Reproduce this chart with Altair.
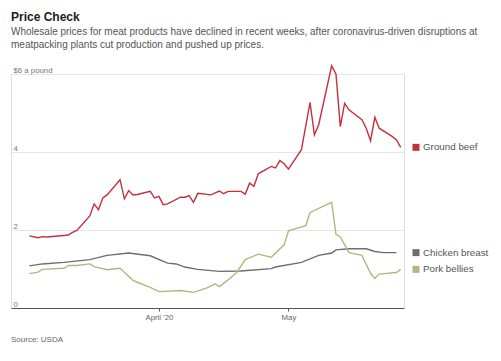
import altair as alt
import pandas as pd

FONT = "Liberation Sans"

series_names = ["Ground beef", "Chicken breast", "Pork bellies"]
series_colors = ["#c3303f", "#6e6e6e", "#bab381"]
source_text = ["Source: USDA"]

beef_dates = ["2020-03-02", "2020-03-04", "2020-03-05", "2020-03-06", "2020-03-10", "2020-03-11",
              "2020-03-12", "2020-03-13", "2020-03-16", "2020-03-17", "2020-03-18", "2020-03-19",
              "2020-03-20", "2020-03-23", "2020-03-24", "2020-03-25", "2020-03-26", "2020-03-27",
              "2020-03-30", "2020-03-31", "2020-04-01", "2020-04-02", "2020-04-03", "2020-04-06",
              "2020-04-07", "2020-04-08", "2020-04-09", "2020-04-10", "2020-04-13", "2020-04-15",
              "2020-04-16", "2020-04-17", "2020-04-20", "2020-04-21", "2020-04-22", "2020-04-23",
              "2020-04-24", "2020-04-27", "2020-04-28", "2020-04-29", "2020-04-30", "2020-05-01",
              "2020-05-04", "2020-05-06", "2020-05-07", "2020-05-08", "2020-05-11", "2020-05-12",
              "2020-05-13", "2020-05-14", "2020-05-15", "2020-05-18", "2020-05-19", "2020-05-20",
              "2020-05-21", "2020-05-22", "2020-05-25", "2020-05-26", "2020-05-27"]
beef_values = [1.85, 1.80, 1.83, 1.82, 1.86, 1.87,
               1.94, 1.99, 2.36, 2.67, 2.52, 2.82,
               2.90, 3.29, 2.80, 3.01, 2.90, 2.91,
               2.99, 2.82, 2.86, 2.65, 2.67, 2.84,
               2.84, 2.88, 2.71, 2.94, 2.90, 3.00,
               2.93, 2.99, 2.99, 2.92, 3.20, 3.12,
               3.44, 3.63, 3.59, 3.78, 3.70, 3.56,
               4.06, 5.27, 4.44, 4.70, 6.21, 6.00,
               4.65, 5.25, 5.08, 4.83, 4.61, 4.29,
               4.89, 4.61, 4.40, 4.31, 4.12]

chicken_dates = ["2020-03-02", "2020-03-05", "2020-03-10", "2020-03-16", "2020-03-20", "2020-03-25",
                 "2020-03-30", "2020-04-03", "2020-04-05", "2020-04-07", "2020-04-10", "2020-04-15",
                 "2020-04-20", "2020-04-27", "2020-04-28", "2020-05-04", "2020-05-08", "2020-05-11",
                 "2020-05-12", "2020-05-15", "2020-05-19", "2020-05-21", "2020-05-23", "2020-05-26"]
chicken_values = [1.08, 1.13, 1.17, 1.24, 1.35, 1.41,
                  1.34, 1.15, 1.13, 1.05, 0.99, 0.94,
                  0.95, 1.01, 1.05, 1.17, 1.35, 1.41,
                  1.49, 1.52, 1.52, 1.45, 1.42, 1.42]

pork_dates = ["2020-03-02", "2020-03-04", "2020-03-05", "2020-03-10", "2020-03-11", "2020-03-13",
              "2020-03-16", "2020-03-17", "2020-03-20", "2020-03-23", "2020-03-26", "2020-03-27",
              "2020-03-30", "2020-04-01", "2020-04-06", "2020-04-09", "2020-04-12", "2020-04-14",
              "2020-04-15", "2020-04-17", "2020-04-19", "2020-04-21", "2020-04-24", "2020-04-27",
              "2020-04-30", "2020-05-01", "2020-05-05", "2020-05-06", "2020-05-11", "2020-05-12",
              "2020-05-13", "2020-05-15", "2020-05-18", "2020-05-20", "2020-05-21", "2020-05-22",
              "2020-05-26", "2020-05-27"]
pork_values = [0.88, 0.92, 0.99, 1.02, 1.09, 1.09,
               1.13, 1.06, 0.98, 1.02, 0.71, 0.66,
               0.53, 0.42, 0.45, 0.40, 0.51, 0.62,
               0.55, 0.72, 0.91, 1.24, 1.38, 1.30,
               1.62, 1.98, 2.11, 2.45, 2.71, 1.89,
               1.82, 1.42, 1.35, 0.89, 0.76, 0.87,
               0.91, 0.99]

all_dates = [beef_dates, chicken_dates, pork_dates]
all_values = [beef_values, chicken_values, pork_values]

rows = []
for name, ds, vs in zip(series_names, all_dates, all_values):
    for d, v in zip(ds, vs):
        rows.append({"series": name, "date": d + "T00:00:00", "value": v})
df = pd.DataFrame(rows)

last = pd.DataFrame([
    {"series": name, "date": ds[-1] + "T00:00:00", "value": vs[-1]}
    for name, ds, vs in zip(series_names, all_dates, all_values)
])
src_df = pd.DataFrame({"t": source_text})

color_scale = alt.Scale(domain=series_names, range=series_colors)
y_scale = alt.Scale(domain=[0, 6], nice=False)
x_scale = alt.Scale(domain=[alt.DateTime(year=2020, month=2, date=26, hours=18),
                            alt.DateTime(year=2020, month=5, date=27, hours=18)])

x_axis = alt.Axis(
    values=[alt.DateTime(year=2020, month=4, date=1), alt.DateTime(year=2020, month=5, date=1)],
    labelExpr="month(datum.value) == 3 ? \"April '20\" : 'May'",
    title=None, grid=False, domainColor="#555", tickColor="#555", tickSize=3,
    labelFont=FONT, labelFontSize=7.8, labelColor="#666", labelPadding=2,
)
y_axis = alt.Axis(
    values=[0, 2, 4, 6],
    labelExpr="datum.value == 6 ? '$6 a pound' : datum.label",
    title=None, domain=False, ticks=False, tickSize=0, grid=True, gridColor="#e6e6e6",
    labelAlign="left", labelBaseline="alphabetic", labelPadding=-2, labelOffset=-2,
    labelFont=FONT, labelFontSize=7.8, labelColor="#777",
)

lines = alt.Chart(df).mark_line(strokeWidth=1.4).encode(
    x=alt.X("date:T", scale=x_scale, axis=x_axis),
    y=alt.Y("value:Q", scale=y_scale, axis=y_axis),
    color=alt.Color("series:N", scale=color_scale, legend=None),
    detail="series:N",
)

squares = alt.Chart(last).mark_square(size=49, opacity=1).encode(
    x=alt.value(405),
    y=alt.Y("value:Q"),
    color=alt.Color("series:N", scale=color_scale, legend=None),
)

labels = alt.Chart(last).mark_text(
    align="left", baseline="middle", font=FONT, fontSize=9.8, color="#555"
).encode(
    x=alt.value(412),
    y=alt.Y("value:Q"),
    text=alt.Text("series:N"),
)

source = alt.Chart(src_df).mark_text(
    align="left", baseline="alphabetic", font=FONT, fontSize=8, fontWeight="normal", color="#666"
).encode(
    x=alt.value(0),
    y=alt.value(268),
    text=alt.Text("t:N"),
)

chart = alt.layer(lines, squares, labels, source).properties(
    width=393,
    height=234,
    padding={"left": 3, "top": 3, "right": 2, "bottom": 2},
    title=alt.TitleParams(
        text="Price Check",
        subtitle=[
            "Wholesale prices for meat products have declined in recent weeks, after coronavirus-driven disruptions at",
            "meatpacking plants cut production and pushed up prices.",
        ],
        anchor="start",
        font=FONT, fontSize=12, fontWeight="bold", color="#222",
        subtitleFont=FONT, subtitleFontSize=10, subtitleColor="#555",
        subtitleLineHeight=13, subtitlePadding=3, offset=12,
    ),
).configure_view(stroke=None).configure(background="white")

chart.save("out.html", embed_options={"renderer": "svg", "actions": False})
